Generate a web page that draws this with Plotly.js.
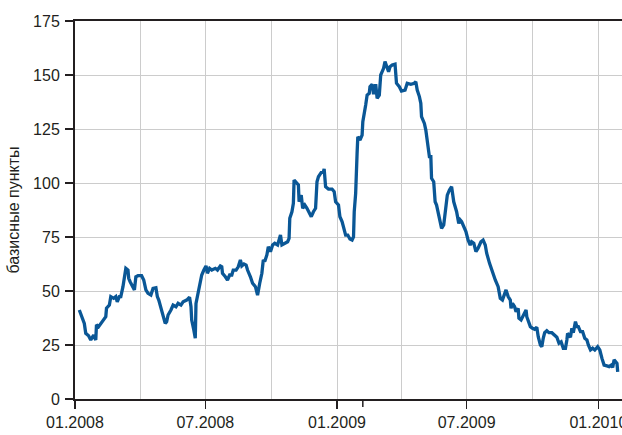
<!DOCTYPE html>
<html>
<head>
<meta charset="utf-8">
<script src="https://cdn.plot.ly/plotly-3.0.1.min.js"></script>
<style>html,body{margin:0;padding:0;background:#fff;}#chart{width:622px;height:435px;}</style>
</head>
<body>
<div id="chart"></div>
<script>
var dates = [
"2008-01-07","2008-01-11","2008-01-14","2008-01-16","2008-01-20","2008-01-23","2008-01-27","2008-01-30","2008-01-31","2008-02-03",
"2008-02-06","2008-02-10","2008-02-13","2008-02-14","2008-02-18","2008-02-20","2008-02-24","2008-02-27","2008-02-29","2008-03-03",
"2008-03-05","2008-03-08","2008-03-10","2008-03-12","2008-03-15","2008-03-16","2008-03-18","2008-03-21","2008-03-24","2008-03-26",
"2008-03-29","2008-04-03","2008-04-06","2008-04-09","2008-04-12","2008-04-16","2008-04-19","2008-04-23","2008-04-25","2008-04-27",
"2008-04-30","2008-05-03","2008-05-06","2008-05-08","2008-05-10","2008-05-14","2008-05-17","2008-05-21","2008-05-24","2008-05-28",
"2008-05-31","2008-06-05","2008-06-09","2008-06-11","2008-06-12","2008-06-15","2008-06-17","2008-06-18","2008-06-21","2008-06-24",
"2008-06-26","2008-06-29","2008-07-02","2008-07-04","2008-07-07","2008-07-10","2008-07-15","2008-07-18","2008-07-22","2008-07-24",
"2008-07-25","2008-07-29","2008-08-01","2008-08-04","2008-08-07","2008-08-09","2008-08-13","2008-08-16","2008-08-19","2008-08-21",
"2008-08-24","2008-08-27","2008-08-29","2008-09-02","2008-09-05","2008-09-09","2008-09-12","2008-09-15","2008-09-18","2008-09-20",
"2008-09-22","2008-09-25","2008-09-27","2008-09-30","2008-10-03","2008-10-06","2008-10-10","2008-10-12","2008-10-14","2008-10-16",
"2008-10-20","2008-10-24","2008-10-26","2008-10-27","2008-10-30","2008-11-01","2008-11-02","2008-11-06","2008-11-08","2008-11-09",
"2008-11-12","2008-11-14","2008-11-17","2008-11-20","2008-11-23","2008-11-26","2008-11-29","2008-12-02","2008-12-04","2008-12-06",
"2008-12-10","2008-12-13","2008-12-14","2008-12-16","2008-12-20","2008-12-25","2008-12-28","2008-12-30","2009-01-03","2009-01-05",
"2009-01-08","2009-01-11","2009-01-13","2009-01-16","2009-01-19","2009-01-22","2009-01-24","2009-01-25","2009-01-27","2009-01-29",
"2009-01-30","2009-02-02","2009-02-05","2009-02-06","2009-02-08","2009-02-10","2009-02-12","2009-02-15","2009-02-16","2009-02-19",
"2009-02-21","2009-02-24","2009-02-26","2009-03-01","2009-03-03","2009-03-07","2009-03-09","2009-03-11","2009-03-14","2009-03-16",
"2009-03-19","2009-03-23","2009-03-25","2009-03-29","2009-04-01","2009-04-06","2009-04-09","2009-04-14","2009-04-19","2009-04-21",
"2009-04-23","2009-04-26","2009-04-28","2009-04-29","2009-05-03","2009-05-05","2009-05-07","2009-05-10","2009-05-12","2009-05-13",
"2009-05-16","2009-05-18","2009-05-20","2009-05-23","2009-05-25","2009-05-27","2009-05-30","2009-06-01","2009-06-04","2009-06-07",
"2009-06-10","2009-06-13","2009-06-15","2009-06-17","2009-06-20","2009-06-22","2009-06-24","2009-06-27","2009-06-30","2009-07-03",
"2009-07-06","2009-07-08","2009-07-11","2009-07-14","2009-07-17","2009-07-21","2009-07-24","2009-07-27","2009-07-29","2009-08-02",
"2009-08-06","2009-08-10","2009-08-14","2009-08-17","2009-08-20","2009-08-23","2009-08-25","2009-08-28","2009-08-31","2009-09-01",
"2009-09-03","2009-09-06","2009-09-08","2009-09-11","2009-09-12","2009-09-15","2009-09-18","2009-09-22","2009-09-23","2009-09-25",
"2009-09-28","2009-10-01","2009-10-04","2009-10-07","2009-10-09","2009-10-12","2009-10-14","2009-10-16","2009-10-18","2009-10-21",
"2009-10-24","2009-10-28","2009-11-01","2009-11-04","2009-11-07","2009-11-10","2009-11-13","2009-11-16","2009-11-18","2009-11-19",
"2009-11-23","2009-11-25","2009-11-27","2009-11-30","2009-12-02","2009-12-04","2009-12-07","2009-12-10","2009-12-13","2009-12-16",
"2009-12-18","2009-12-21","2009-12-24","2009-12-27","2009-12-31","2010-01-03","2010-01-06","2010-01-09","2010-01-13","2010-01-16",
"2010-01-19","2010-01-21","2010-01-23","2010-01-27","2010-01-28"
];
var spread = [
41.2,38.1,35.0,30.4,29.3,27.3,29.6,27.3,34.3,33.5,
35.0,36.6,38.1,42.0,43.5,47.4,46.6,47.4,45.0,47.4,
47.4,52.0,55.9,60.5,59.7,55.9,54.3,52.0,50.5,56.6,
57.1,57.1,55.1,50.5,48.9,48.1,51.2,51.5,47.4,45.8,
42.0,38.1,35.0,35.8,38.9,41.2,43.5,42.7,44.3,43.5,
45.0,45.8,47.1,42.7,36.6,31.9,28.1,44.3,49.7,53.6,
57.4,59.7,61.6,58.2,60.5,59.7,60.5,59.7,61.6,61.2,
58.2,56.6,55.1,57.4,57.4,59.7,59.7,61.2,64.4,61.6,
62.5,62.0,59.7,56.6,53.6,52.0,48.1,53.6,58.2,64.4,
63.6,66.7,70.5,68.2,71.3,72.1,71.3,73.6,75.9,71.3,
72.1,72.8,74.4,83.7,86.7,90.6,101.4,99.8,99.1,91.3,
94.4,88.3,89.8,88.3,86.7,84.4,86.7,88.3,100.6,102.9,
104.9,105.2,106.5,98.3,97.2,97.2,96.0,91.3,89.8,84.4,
82.1,79.0,75.9,75.9,74.1,73.6,75.1,86.7,95.2,113.7,
121.4,119.9,122.2,128.4,131.5,136.1,140.7,141.5,144.6,145.7,
141.1,145.7,139.2,140.7,150.0,153.1,156.2,154.6,151.5,153.8,
154.6,155.0,146.2,144.6,142.6,143.0,146.2,145.7,146.2,146.9,
143.0,140.0,136.9,130.7,127.6,124.5,119.1,112.2,112.2,102.2,
100.6,91.3,89.8,84.4,80.6,79.0,80.6,86.7,94.4,96.8,
98.3,91.3,89.0,86.7,81.3,82.9,82.1,79.8,77.5,73.6,
71.3,72.8,72.1,68.2,69.8,72.8,73.6,71.3,67.5,62.8,
58.5,55.1,52.0,46.6,45.8,48.1,50.5,47.4,45.8,42.0,
44.3,42.7,40.4,42.0,37.4,36.6,38.9,41.2,38.1,35.8,
33.5,32.7,32.3,33.2,28.8,25.0,24.2,28.1,30.7,31.6,
30.7,30.7,29.2,28.6,25.8,26.5,23.5,23.5,27.3,30.4,
28.6,32.7,30.7,35.8,33.5,33.5,31.2,31.2,28.1,27.3,
25.0,22.7,23.5,22.7,24.2,22.7,18.8,15.7,15.3,15.0,
15.7,14.6,18.1,16.5,12.6
];
var yTicks = [0, 25, 50, 75, 100, 125, 150, 175];
var xTickDates = ["2008-01-01","2008-07-01","2009-01-01","2009-07-01","2010-01-01"];
var xTickLabels = ["01.2008","07.2008","01.2009","07.2009","01.2010"];
var yTitle = "базисные пункты";

var fontFam = "'Liberation Sans Narrow', 'Liberation Sans', Arial, sans-serif";
var trace = {
  x: dates, y: spread, type: "scatter", mode: "lines",
  line: {color: "#0a5796", width: 3.3}, hoverinfo: "skip"
};
var layout = {
  width: 622, height: 435,
  margin: {l: 75, r: 0, t: 21, b: 36},
  paper_bgcolor: "#fff", plot_bgcolor: "#fff",
  font: {family: fontFam, size: 16, color: "#231f20"},
  showlegend: false,
  xaxis: {
    type: "date",
    range: ["2008-01-01", "2010-02-03"],
    tickmode: "array", tickvals: xTickDates, ticktext: xTickLabels,
    ticklabeloverflow: "allow",
    ticks: "outside", ticklen: 8, tickwidth: 1.5, tickcolor: "#231f20",
    showline: true, linecolor: "#231f20", linewidth: 2, mirror: true,
    showgrid: true, gridcolor: "#cccccc", gridwidth: 1,
    minor: {dtick: "M3", tick0: "2008-01-01", showgrid: true, gridcolor: "#cccccc", gridwidth: 1, ticks: ""},
    zeroline: false, fixedrange: true
  },
  yaxis: {
    range: [0, 175],
    tickmode: "array", tickvals: yTicks,
    ticks: "outside", ticklen: 8, tickwidth: 1.5, tickcolor: "#231f20",
    showline: true, linecolor: "#231f20", linewidth: 2,
    showgrid: true, gridcolor: "#cccccc", gridwidth: 1,
    zeroline: false, fixedrange: true,
    ticklabelstandoff: 2,
    title: {text: yTitle, font: {size: 16}, standoff: 9}
  },
  shapes: [{
    type: "line", xref: "x", yref: "paper",
    x0: "2009-02-06", x1: "2009-02-06", y0: 0, y1: -0.021,
    line: {color: "#231f20", width: 1.5}
  }]
};
Plotly.newPlot("chart", [trace], layout, {displayModeBar: false, staticPlot: true});
</script>
</body>
</html>
